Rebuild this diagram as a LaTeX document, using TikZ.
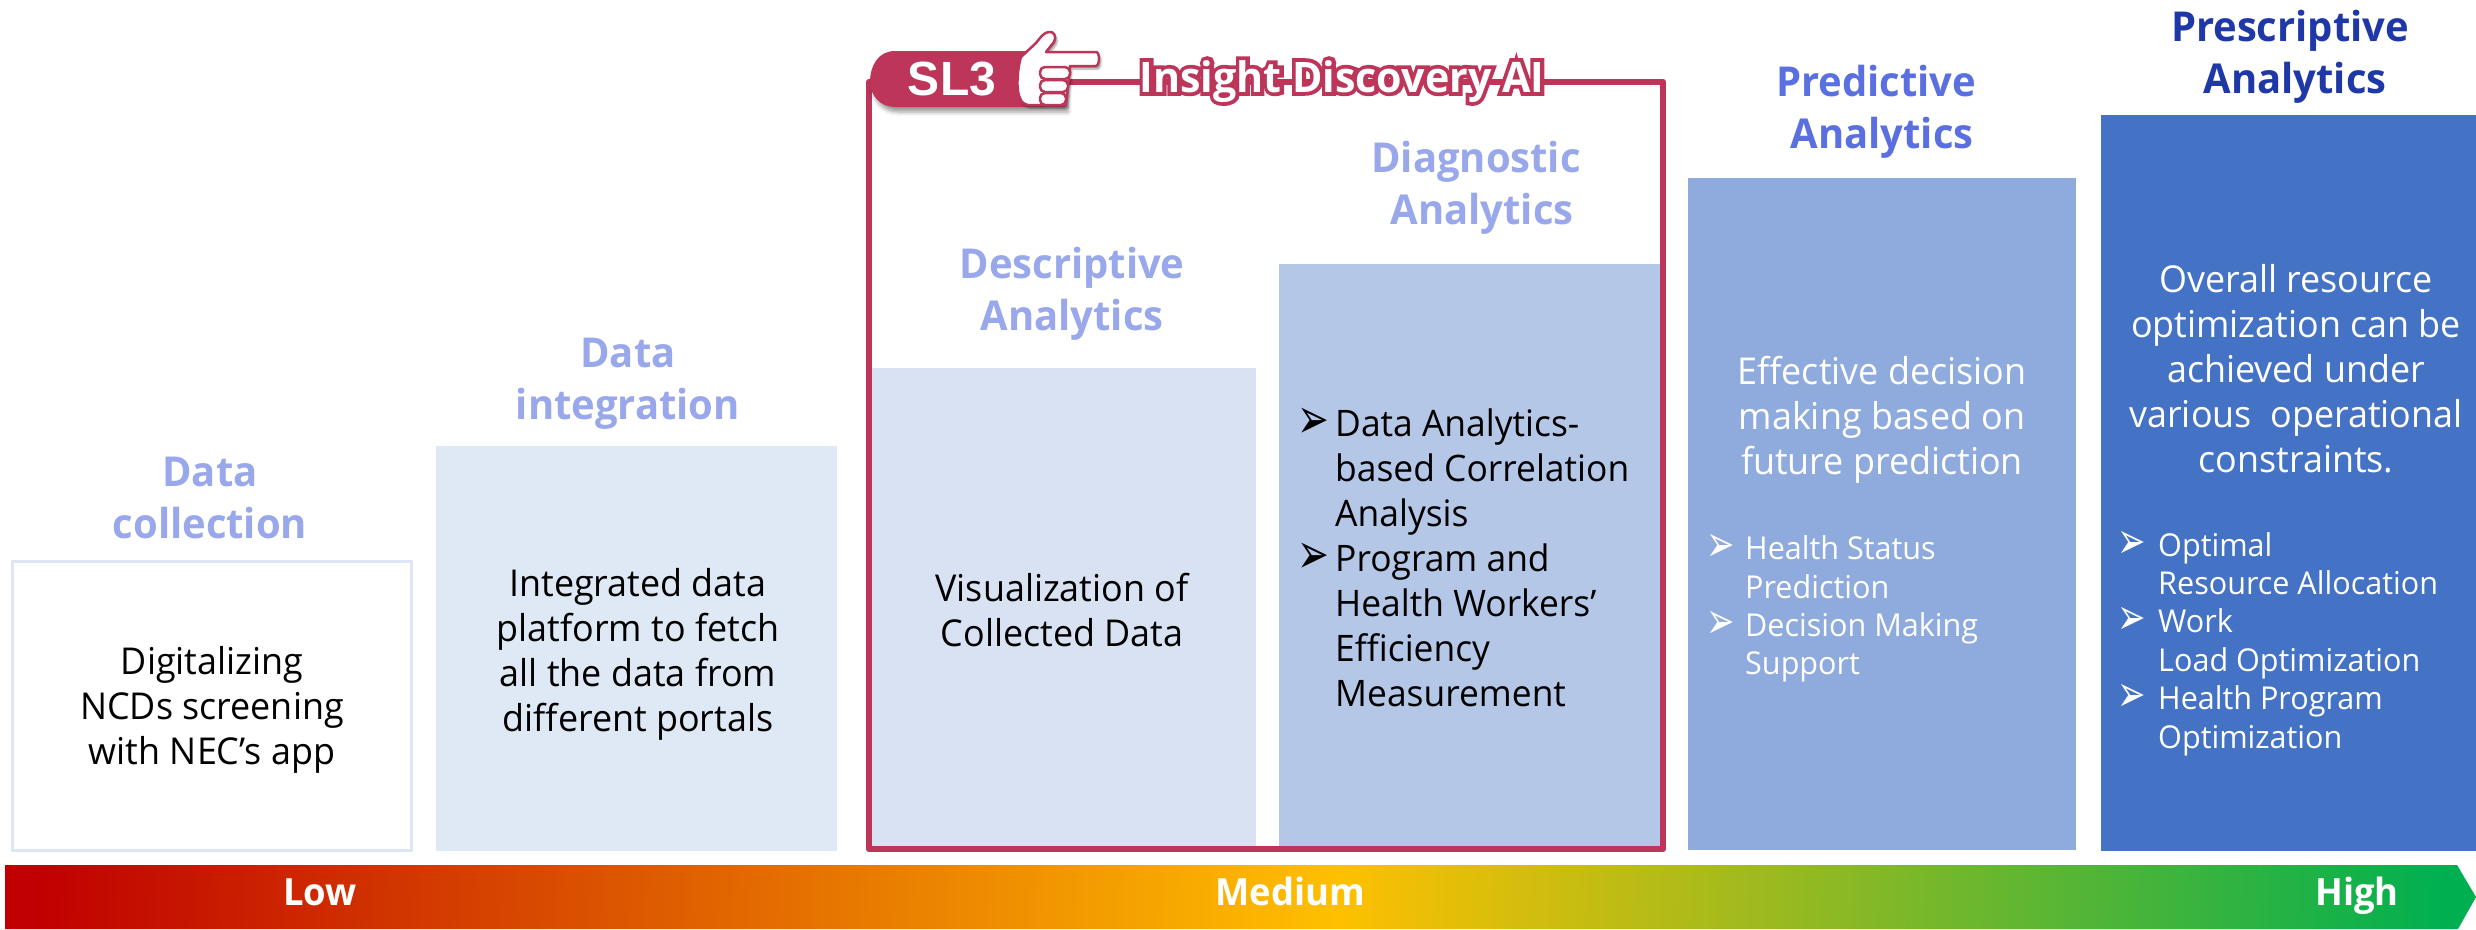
\documentclass[tikz,border=0pt]{standalone}
\usepackage{fontspec}
\setmainfont{Open Sans}[FakeStretch=0.97]
\newfontfamily\bulletfont{DejaVu Sans}
\newfontfamily\armfont{Liberation Sans}
\newfontfamily\glowfont{Open Sans}[FakeStretch=0.98,BoldFont={Open Sans Bold},BoldFeatures={FakeBold=18,FakeStretch=0.98}]
\newfontfamily\facefont{Open Sans}[FakeStretch=0.98,BoldFont={Open Sans Bold},BoldFeatures={FakeStretch=0.98}]
\usetikzlibrary{shadows.blur}
\definecolor{crim}{HTML}{BE355A}
\definecolor{tlight}{HTML}{99A7EB}
\definecolor{tmid}{HTML}{5A6FE0}
\definecolor{tdark}{HTML}{1F38A8}
\definecolor{boxa}{HTML}{DCE6F4}
\definecolor{boxb}{HTML}{DEE9F5}
\definecolor{boxc}{HTML}{D9E2F3}
\definecolor{boxd}{HTML}{B4C7E7}
\definecolor{boxe}{HTML}{8FAADC}
\definecolor{boxf}{HTML}{4472C4}
\pgfdeclarehorizontalshading{heat}{100bp}{
 rgb(0bp)=(0.753,0,0);
 rgb(25bp)=(0.753,0,0);
 rgb(52bp)=(1,0.753,0);
 rgb(75bp)=(0,0.69,0.314);
 rgb(100bp)=(0,0.69,0.314)}
\tikzset{
 title/.style={font=\fontsize{41.2}{52}\selectfont\bfseries,align=center,inner sep=0pt},
 body/.style={font=\fontsize{37}{45}\selectfont,align=center,inner sep=0pt},
 bodyw/.style={font=\fontsize{37}{45}\selectfont,align=center,inner sep=0pt,text=white},
 bul/.style={font=\bulletfont\fontsize{38}{38}\selectfont,inner sep=0pt,yscale=1.5,transform shape},
 bulw/.style={font=\bulletfont\fontsize{34}{34}\selectfont,inner sep=0pt,text=white,yscale=1.5,transform shape},
 item/.style={anchor=base west,inner sep=0pt},
 itemk/.style={item,font=\fontsize{36.5}{45}\selectfont},
 itemw/.style={item,text=white,font=\fontsize{31.5}{38}\selectfont},
 scale label/.style={font=\fontsize{37.5}{38}\selectfont\bfseries,text=white,inner sep=0pt,anchor=base},
 finger/.style={fill=white,draw=crim,line width=2.5pt,rounded corners=5pt}
}
\begin{document}
\begin{tikzpicture}[x=1pt,y=-1pt]
\useasboundingbox (0,0) rectangle (2476,929);
% boxes
\draw[boxa,line width=3pt,fill=white] (12.5,561) rectangle (411,850);
\fill[boxb] (436,446) rectangle (837,851);
\fill[boxc] (869,368) rectangle (1256,849);
\fill[boxd] (1279,264) rectangle (1662,849);
\fill[boxe] (1688,178) rectangle (2076,850);
\fill[boxf] (2101,115) rectangle (2476,851);
% scale
\path[shading=heat,shading angle=-1.5] (5,865) -- (2457,865) -- (2476,897) -- (2458,929) -- (5,929) -- cycle;
% frame
\draw[crim,line width=6.5pt,line join=round] (869,82) -- (1663,82) -- (1663,849) -- (869,849) -- cycle;
% badge
\path[fill=crim,blur shadow={shadow xshift=3pt,shadow yshift=-5pt,shadow blur radius=4pt}] (1065,51) -- (895,51) .. controls (878,51) and (870,66) .. (870,82) .. controls (870,95) and (880,107) .. (895,107) -- (1065,107) -- cycle;
\node[inner sep=0pt,anchor=base,text=white,font=\armfont\fontsize{48}{48}\selectfont\bfseries] (sl) at (952,95) {SL3};
% hand
\draw[fill=white,draw=crim,line width=2.5pt,line join=round,blur shadow={shadow xshift=2pt,shadow yshift=-3pt,shadow blur radius=2pt}]
 (1049,32) .. controls (1044,32) and (1040,38) .. (1036,43) -- (1021,57)
 .. controls (1017,70) and (1016,92) .. (1020,98) .. controls (1021,102) and (1024,104) .. (1028,105)
 -- (1066,105) -- (1070,66) -- (1096,66) .. controls (1100,65) and (1100,52) .. (1096,52)
 -- (1046,52) -- (1054,42) .. controls (1057,37) and (1054,31) .. (1049,32) -- cycle;
\draw[finger] (1040,67) rectangle (1070,79);
\draw[finger] (1040,80) rectangle (1068,92);
\draw[finger] (1040,93) rectangle (1066,105);
% SL3 label
\node[inner sep=0pt,anchor=base,text=crim,font=\glowfont\fontsize{42}{42}\selectfont\bfseries] (glow) at (1342,92) {Insight Discovery AI};
\node[inner sep=0pt,anchor=base,text=white,font=\facefont\fontsize{42}{42}\selectfont\bfseries] (ida) at (1342,92) {Insight Discovery AI};
% titles
\node[title,text=tlight] (t1) at (210,498) {Data\\collection};
\node[title,text=tlight] (t2) at (628,384) {Data\\integration};
\node[title,text=tlight] (t3) at (1072,294) {Descriptive\\Analytics};
\node[title,text=tlight] (t4) at (1476,188) {Diagnostic\\\hspace*{12pt}Analytics};
\node[title,text=tmid] (t5) at (1876,112) {Predictive\\\hspace*{12pt}Analytics};
\node[title,text=tdark] (t6) at (2290,57) {Prescriptive\\\hspace*{10pt}Analytics};
% bodies
\node[body] (b1) at (212,710) {Digitalizing\\NCDs screening\\with NEC’s app};
\node[body] (b2) at (638,654) {Integrated data\\platform to fetch\\all the data from\\different portals};
\node[body] (b3) at (1062,610) {Visualization of\\Collected Data};
\node[bodyw] (b5) at (1882,420) {Effective decision\\making based on\\future prediction};
\node[bodyw] (b6) at (2296,369) {Overall resource\\optimization can be\\achieved under\\various \ operational\\constraints.};
% diagnostic list
\foreach \n/\yy/\tx in {1/436/Data Analytics-,2/481/based Correlation,3/526/Analysis,4/571/Program and,5/616/Health Workers’,6/661/Efficiency,7/706/Measurement}
 \node[itemk] (d\n) at (1335,\yy) {\tx};
\node[bul] (da) at (1313,423) {➢};
\node[bul] (db) at (1313,558) {➢};
% predictive list
\foreach \n/\yy/\tx in {1/559/Health Status,2/598/Prediction,3/636/Decision Making,4/674/Support}
 \node[itemw] (p\n) at (1745,\yy) {\tx};
\node[bulw] (pa) at (1721,548) {➢};
\node[bulw] (pb) at (1721,625) {➢};
% prescriptive list
\foreach \n/\yy/\tx in {1/556/Optimal,2/594/Resource Allocation,3/632/Work,4/671/Load Optimization,5/709/Health Program,6/748/Optimization}
 \node[itemw] (r\n) at (2158,\yy) {\tx};
\node[bulw] (ra) at (2132,545) {➢};
\node[bulw] (rb) at (2132,621) {➢};
\node[bulw] (rc) at (2132,698) {➢};
% scale labels
\node[scale label] (low) at (320,905) {Low};
\node[scale label] (med) at (1290,905) {Medium};
\node[scale label] (high) at (2357,905) {High};
\end{tikzpicture}
\end{document}
